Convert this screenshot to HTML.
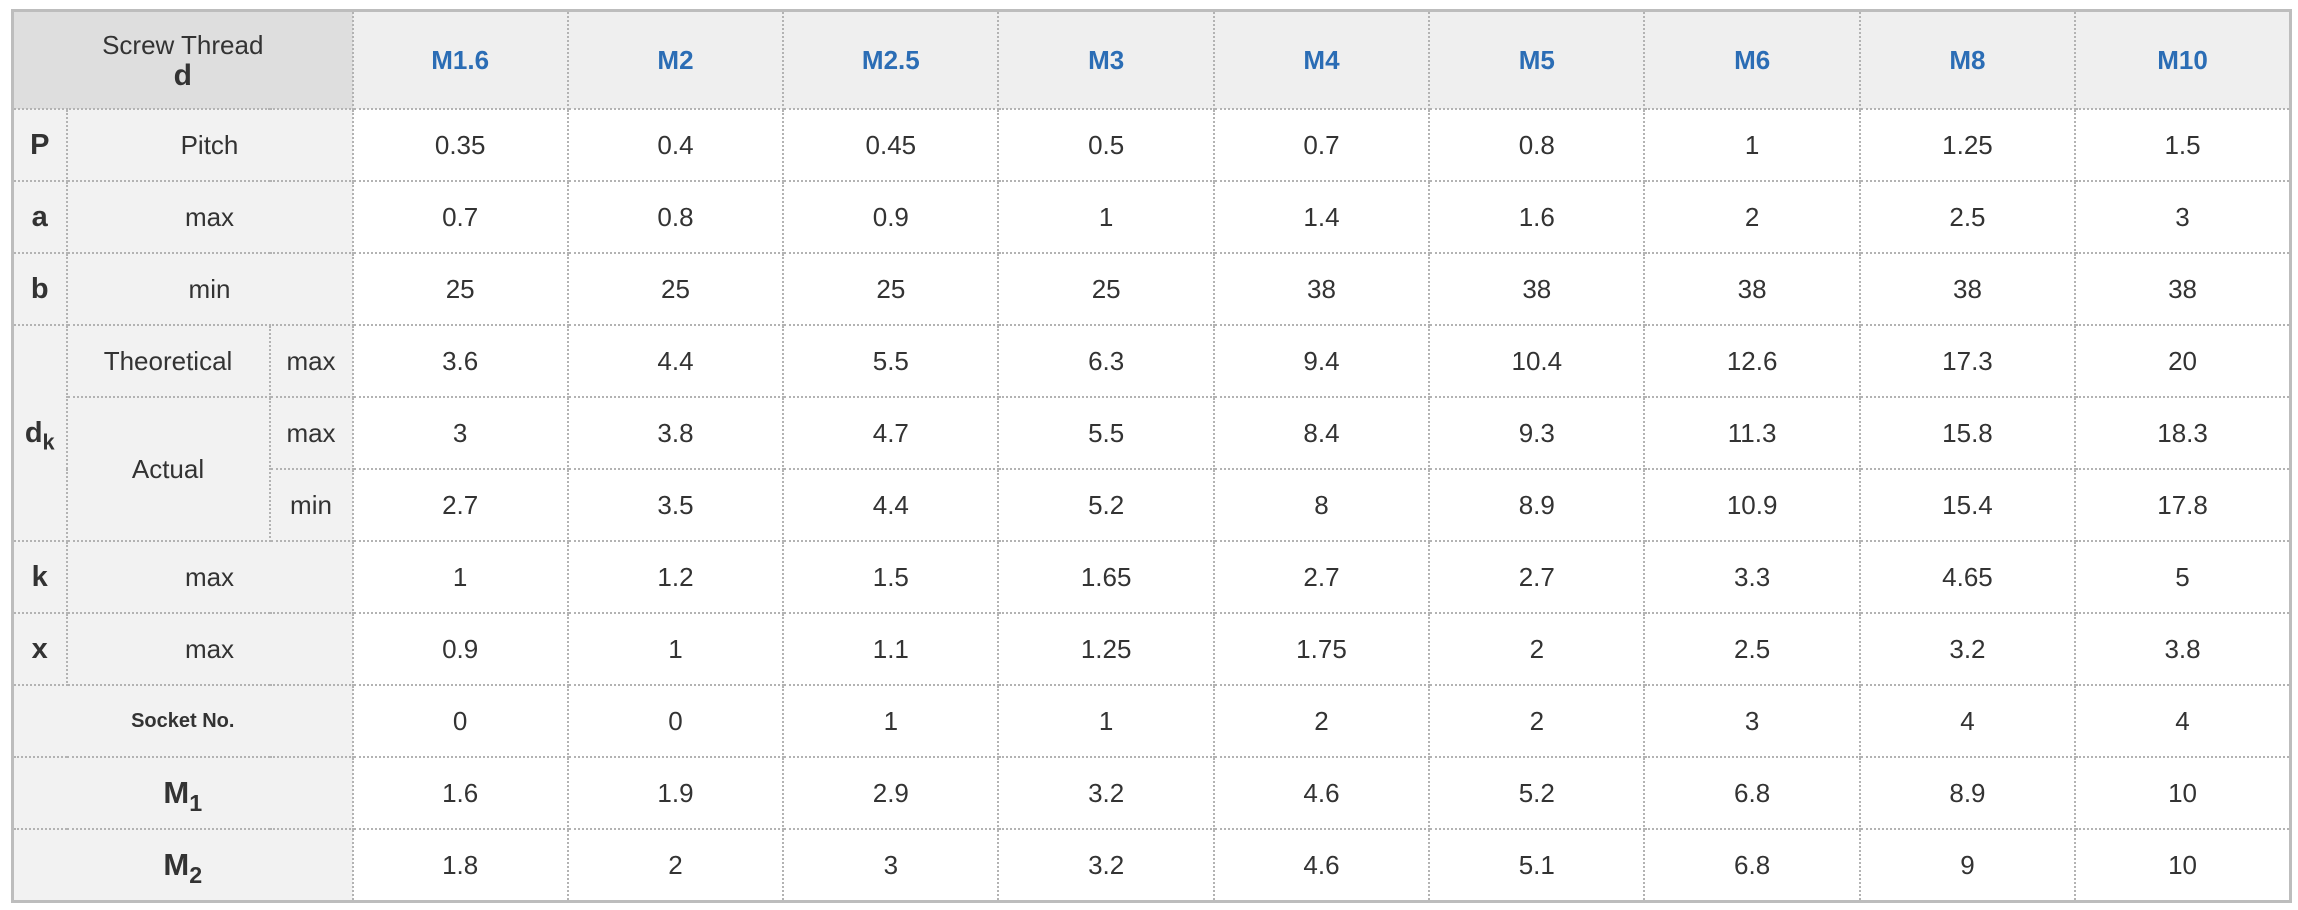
<!DOCTYPE html>
<html><head><meta charset="utf-8">
<style>
html,body{margin:0;padding:0;background:#fff;width:2298px;height:910px;overflow:hidden}
table{position:absolute;left:11px;top:9px;border-collapse:collapse;table-layout:fixed;width:2278px;
 font-family:"Liberation Sans",Arial,sans-serif;color:#333;font-size:26px;border:3px solid #bdbdbd}
td,th{border:2px dotted #b3b3b3;text-align:center;vertical-align:middle;padding:0;height:70px}
th{background:#efefef;color:#2b6db5;font-weight:bold;font-size:26px;height:96px}
th.corner{background:#dedede;color:#333;font-weight:normal}
th.corner b{font-size:30px;display:block;line-height:30px}
td.lab{background:#f2f2f2}
td.sym{background:#f2f2f2;font-weight:bold;font-size:29px}
td.sock{background:#f2f2f2;font-weight:bold;font-size:20px}
td.m{background:#f2f2f2;font-weight:bold;font-size:31px}
sub{font-size:0.75em;vertical-align:-0.35em;line-height:0}
</style></head><body>
<table>
<colgroup><col style="width:54px"><col style="width:203px"><col style="width:83px">
<col span="9" style="width:215.33px"></colgroup>
<tr>
<th class="corner" colspan="3">Screw Thread<b>d</b></th>
<th>M1.6</th><th>M2</th><th>M2.5</th><th>M3</th><th>M4</th><th>M5</th><th>M6</th><th>M8</th><th>M10</th>
</tr>
<tr><td class="sym">P</td><td class="lab" colspan="2">Pitch</td><td>0.35</td><td>0.4</td><td>0.45</td><td>0.5</td><td>0.7</td><td>0.8</td><td>1</td><td>1.25</td><td>1.5</td></tr>
<tr><td class="sym">a</td><td class="lab" colspan="2">max</td><td>0.7</td><td>0.8</td><td>0.9</td><td>1</td><td>1.4</td><td>1.6</td><td>2</td><td>2.5</td><td>3</td></tr>
<tr><td class="sym">b</td><td class="lab" colspan="2">min</td><td>25</td><td>25</td><td>25</td><td>25</td><td>38</td><td>38</td><td>38</td><td>38</td><td>38</td></tr>
<tr><td class="sym" rowspan="3">d<sub>k</sub></td><td class="lab">Theoretical</td><td class="lab">max</td><td>3.6</td><td>4.4</td><td>5.5</td><td>6.3</td><td>9.4</td><td>10.4</td><td>12.6</td><td>17.3</td><td>20</td></tr>
<tr><td class="lab" rowspan="2">Actual</td><td class="lab">max</td><td>3</td><td>3.8</td><td>4.7</td><td>5.5</td><td>8.4</td><td>9.3</td><td>11.3</td><td>15.8</td><td>18.3</td></tr>
<tr><td class="lab">min</td><td>2.7</td><td>3.5</td><td>4.4</td><td>5.2</td><td>8</td><td>8.9</td><td>10.9</td><td>15.4</td><td>17.8</td></tr>
<tr><td class="sym">k</td><td class="lab" colspan="2">max</td><td>1</td><td>1.2</td><td>1.5</td><td>1.65</td><td>2.7</td><td>2.7</td><td>3.3</td><td>4.65</td><td>5</td></tr>
<tr><td class="sym">x</td><td class="lab" colspan="2">max</td><td>0.9</td><td>1</td><td>1.1</td><td>1.25</td><td>1.75</td><td>2</td><td>2.5</td><td>3.2</td><td>3.8</td></tr>
<tr><td class="sock" colspan="3">Socket No.</td><td>0</td><td>0</td><td>1</td><td>1</td><td>2</td><td>2</td><td>3</td><td>4</td><td>4</td></tr>
<tr><td class="m" colspan="3">M<sub>1</sub></td><td>1.6</td><td>1.9</td><td>2.9</td><td>3.2</td><td>4.6</td><td>5.2</td><td>6.8</td><td>8.9</td><td>10</td></tr>
<tr><td class="m" colspan="3">M<sub>2</sub></td><td>1.8</td><td>2</td><td>3</td><td>3.2</td><td>4.6</td><td>5.1</td><td>6.8</td><td>9</td><td>10</td></tr>
</table>
</body></html>
